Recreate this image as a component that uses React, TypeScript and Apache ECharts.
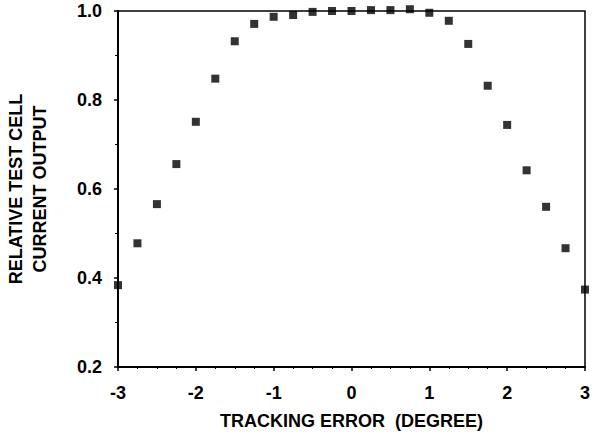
import React, { useEffect, useRef } from "react";
import * as echarts from "echarts";

const trackingError = [
  -3, -2.75, -2.5, -2.25, -2, -1.75, -1.5, -1.25, -1, -0.75, -0.5, -0.25, 0,
  0.25, 0.5, 0.75, 1, 1.25, 1.5, 1.75, 2, 2.25, 2.5, 2.75, 3,
];
const relativeOutput = [
  0.384, 0.478, 0.566, 0.656, 0.751, 0.848, 0.932, 0.971, 0.987, 0.991, 0.998,
  1.0, 1.0, 1.002, 1.002, 1.004, 0.996, 0.978, 0.926, 0.832, 0.744, 0.642,
  0.56, 0.467, 0.374,
];
const xTitle = "TRACKING ERROR  (DEGREE)";
const yTitle = "RELATIVE TEST CELL\nCURRENT OUTPUT";

export default function App() {
  const ref = useRef<HTMLDivElement>(null);
  useEffect(() => {
    if (!ref.current) return;
    const chart = echarts.init(ref.current, undefined, { renderer: "svg" });
    const font = "'Liberation Sans', Arial, sans-serif";
    const txt = { color: "#000", fontSize: 18, fontWeight: "bold", fontFamily: font };
    chart.setOption({
      animation: false,
      backgroundColor: "#fff",
      textStyle: { fontFamily: font },
      grid: {
        left: 118,
        right: 7,
        top: 11,
        bottom: 66,
        outerBoundsMode: "none",
        containLabel: false,
        show: true,
        borderColor: "#000",
        borderWidth: 1.5,
      },
      xAxis: {
        type: "value",
        min: -3,
        max: 3,
        interval: 1,
        name: xTitle,
        nameLocation: "middle",
        nameGap: 45,
        nameTextStyle: { ...txt },
        axisLine: { onZero: false, lineStyle: { color: "#000", width: 2 } },
        axisTick: { show: true, length: 4, inside: false, lineStyle: { color: "#000", width: 1.5 } },
        minorTick: { show: true, splitNumber: 4, length: 2, lineStyle: { color: "#000", width: 1 } },
        splitLine: { show: false },
        axisLabel: {
          ...txt,
          margin: 17,
          formatter: (v: number) => String(v),
        },
      },
      yAxis: {
        type: "value",
        min: 0.2,
        max: 1.0,
        interval: 0.2,
        name: yTitle,
        nameLocation: "middle",
        nameGap: 66,
        nameRotate: 90,
        nameTextStyle: { ...txt, lineHeight: 24 },
        axisLine: { onZero: false, lineStyle: { color: "#000", width: 2 } },
        axisTick: { show: true, length: 4, inside: false, lineStyle: { color: "#000", width: 1.5 } },
        minorTick: { show: true, splitNumber: 2, length: 3, lineStyle: { color: "#000", width: 1 } },
        splitLine: { show: false },
        axisLabel: {
          ...txt,
          margin: 16,
          formatter: (v: number) => v.toFixed(1),
        },
      },
      series: [
        {
          type: "scatter",
          clip: false,
          symbol: "rect",
          symbolSize: 8,
          itemStyle: { color: "#000" },
          data: trackingError.map((x, i) => [x, relativeOutput[i]]),
        },
      ],
    });
    return () => chart.dispose();
  }, []);
  return <div ref={ref} style={{ width: 592, height: 433, position: "absolute", left: 0, top: 0 }} />;
}
